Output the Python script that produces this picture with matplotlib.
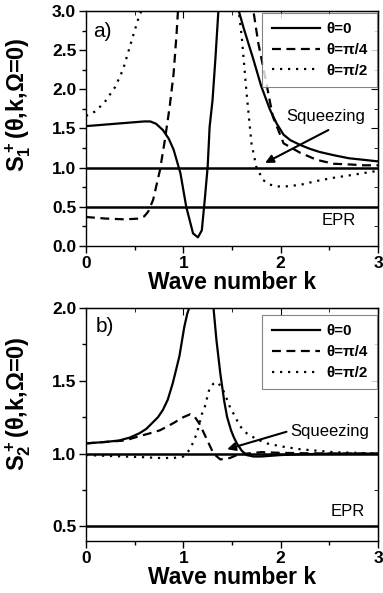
import matplotlib
matplotlib.use("Agg")
import matplotlib.pyplot as plt
import numpy as np
from matplotlib.ticker import MultipleLocator, FormatStrFormatter

plt.rcParams['font.family'] = ['Liberation Sans', 'DejaVu Sans']
plt.rcParams['font.weight'] = 'bold'
plt.rcParams['axes.labelweight'] = 'bold'
plt.rcParams['mathtext.fontset'] = 'custom'
plt.rcParams['mathtext.bf'] = 'Liberation Sans:bold'
plt.rcParams['mathtext.rm'] = 'Liberation Sans:bold'

nan = np.nan

### Data, panel a)  (nan splits the branches that run off the top)
k_a0 = [0.0, 0.2, 0.4, 0.6, 0.66, 0.72, 0.79, 0.85, 0.9, 0.97, 1.03, 1.1, 1.15, 1.19, 1.22, 1.25, 1.27, 1.3, 1.33, 1.36, 1.39,
        nan, 1.55, 1.57, 1.62, 1.67, 1.72, 1.8, 1.89, 1.96, 2.03, 2.1, 2.2, 2.3, 2.4, 2.54, 2.7, 2.85, 3.0]
s_a0 = [1.53, 1.55, 1.57, 1.59, 1.59, 1.56, 1.48, 1.37, 1.23, 0.93, 0.5, 0.16, 0.11, 0.2, 0.59, 1.01, 1.52, 1.86, 2.4, 3.0, 3.6,
        nan, 3.5, 3.0, 2.78, 2.58, 2.38, 2.04, 1.74, 1.56, 1.42, 1.35, 1.29, 1.24, 1.2, 1.16, 1.12, 1.1, 1.08]

k_a1 = [0.0, 0.2, 0.4, 0.55, 0.6, 0.64, 0.69, 0.76, 0.81, 0.86, 0.9, 0.93, 0.945, 0.96,
        nan, 1.71, 1.72, 1.77, 1.84, 1.92, 2.03, 2.2, 2.37, 2.54, 2.72, 2.85, 3.0]
s_a1 = [0.37, 0.35, 0.34, 0.35, 0.38, 0.44, 0.59, 0.97, 1.35, 1.78, 2.2, 2.7, 3.0, 3.5,
        nan, 3.5, 3.0, 2.59, 2.16, 1.65, 1.31, 1.19, 1.1, 1.05, 1.04, 1.03, 1.03]

k_a2 = [0.0, 0.1, 0.2, 0.3, 0.38, 0.44, 0.5, 0.55, 0.57, 0.59,
        nan, 1.55, 1.57, 1.6, 1.65, 1.7, 1.75, 1.82, 1.9, 1.96, 2.05, 2.2, 2.37, 2.54, 2.7, 2.85, 3.0]
s_a2 = [1.66, 1.72, 1.85, 2.03, 2.25, 2.5, 2.75, 2.95, 3.0, 3.5,
        nan, 3.5, 3.0, 2.67, 1.95, 1.31, 1.01, 0.84, 0.78, 0.76, 0.76, 0.78, 0.83, 0.87, 0.9, 0.93, 0.96]

### Data, panel b)
k_b0 = [0.0, 0.2, 0.34, 0.45, 0.55, 0.62, 0.68, 0.74, 0.79, 0.84, 0.89, 0.92, 0.96, 1.01, 1.04, 1.06, 1.09,
        nan, 1.29, 1.31, 1.34, 1.38, 1.42, 1.45, 1.49, 1.52, 1.55, 1.6, 1.65, 1.72, 1.8, 1.9, 2.0, 2.2, 2.5, 3.0]
s_b0 = [1.07, 1.08, 1.09, 1.11, 1.14, 1.17, 1.21, 1.25, 1.3, 1.37, 1.48, 1.56, 1.67, 1.87, 1.96, 2.0, 2.2,
        nan, 2.2, 2.0, 1.78, 1.55, 1.36, 1.25, 1.16, 1.11, 1.07, 1.02, 0.99, 0.98, 0.98, 0.985, 0.99, 0.995, 1.0, 1.0]

k_b1 = [0.0, 0.2, 0.4, 0.55, 0.66, 0.76, 0.9, 1.0, 1.07, 1.12, 1.17, 1.24, 1.31, 1.38, 1.48, 1.55, 1.65, 1.8, 2.0, 2.5, 3.0]
s_b1 = [1.07, 1.08, 1.09, 1.12, 1.14, 1.16, 1.21, 1.25, 1.27, 1.25, 1.2, 1.1, 1.0, 0.96, 0.97, 0.99, 1.0, 1.01, 1.005, 1.0, 1.0]

k_b2 = [0.0, 0.2, 0.4, 0.6, 0.75, 0.9, 1.0, 1.07, 1.14, 1.19, 1.22, 1.27, 1.31, 1.35, 1.4, 1.45, 1.49, 1.52, 1.58, 1.65,
        1.75, 1.86, 2.0, 2.2, 2.54, 3.0]
s_b2 = [0.99, 0.985, 0.98, 0.975, 0.97, 0.97, 0.98, 1.03, 1.14, 1.27, 1.32, 1.45, 1.48, 1.49, 1.45, 1.37, 1.3, 1.27, 1.19, 1.14,
        1.1, 1.07, 1.05, 1.03, 1.01, 1.0]

labels = ['θ=0', 'θ=π/4', 'θ=π/2']
squeeze_level = 1.0
epr_level = 0.5

styles = [dict(ls='-', lw=1.6), dict(ls=(0, (4, 2.5)), lw=1.6), dict(ls=(0, (1, 2.6)), lw=1.6)]


def style_axes(ax, ylim, ymajor, yminor):
    ax.set_xlim(0, 3)
    ax.set_ylim(*ylim)
    ax.xaxis.set_major_locator(MultipleLocator(1))
    ax.xaxis.set_minor_locator(MultipleLocator(0.5))
    ax.yaxis.set_major_locator(MultipleLocator(ymajor))
    ax.yaxis.set_minor_locator(MultipleLocator(yminor))
    ax.tick_params(which='major', direction='out', length=5, width=1, labelsize=12.5, pad=2)
    ax.tick_params(which='minor', direction='out', length=3, width=1)
    ax.yaxis.set_major_formatter(FormatStrFormatter('%.1f'))
    for s in ax.spines.values():
        s.set_linewidth(1)
    # inward ticks on top and right
    top = ax.secondary_xaxis('top')
    top.xaxis.set_major_locator(MultipleLocator(1))
    top.xaxis.set_minor_locator(MultipleLocator(0.5))
    top.tick_params(which='major', direction='in', length=5, labeltop=False)
    top.tick_params(which='minor', direction='in', length=3)
    right = ax.secondary_yaxis('right')
    right.yaxis.set_major_locator(MultipleLocator(ymajor))
    right.yaxis.set_minor_locator(MultipleLocator(yminor))
    right.tick_params(which='major', direction='in', length=5, labelright=False)
    right.tick_params(which='minor', direction='in', length=3)
    ax.set_xlabel('Wave number k', fontsize=16.5, labelpad=0)


def add_legend(ax, y_anchor):
    leg = ax.legend(loc='upper right', bbox_to_anchor=(0.997, y_anchor), borderaxespad=0, fancybox=False,
                    edgecolor='0.4', fontsize=11, handlelength=3.2, handletextpad=0.4,
                    labelspacing=0.45, borderpad=0.6)
    leg.get_frame().set_linewidth(0.8)


fig = plt.figure(figsize=(3.83, 5.93), dpi=100)
ax1 = fig.add_axes([0.2245, 0.5852, 0.7625, 0.3963])
ax2 = fig.add_axes([0.2245, 0.0877, 0.7625, 0.393])

# panel a
for k, s, st, lab in zip([k_a0, k_a1, k_a2], [s_a0, s_a1, s_a2], styles, labels):
    ax1.plot(k, s, color='k', label=lab, **st)
ax1.axhline(squeeze_level, color='k', lw=1.8)
ax1.axhline(epr_level, color='k', lw=1.8)
style_axes(ax1, (0, 3), 0.5, 0.25)
ax1.set_ylabel(r'$\mathbf{S_1^+}$(θ,k,Ω=0)', fontsize=17)
ax1.yaxis.set_label_coords(-0.18, 0.6)
ax1.text(0.075, 2.74, 'a)', fontsize=15, fontweight='normal', va='center')
ax1.text(2.06, 1.65, 'Squeezing', fontsize=12, fontweight='normal', va='center')
ax1.annotate('', xy=(1.84, 1.06), xytext=(2.49, 1.48),
             arrowprops=dict(arrowstyle='-|>', color='k', lw=1.5, mutation_scale=12, shrinkA=0, shrinkB=0))
ax1.text(2.42, 0.33, 'EPR', fontsize=12, fontweight='normal', va='center')
add_legend(ax1, 0.992)

# panel b
for k, s, st, lab in zip([k_b0, k_b1, k_b2], [s_b0, s_b1, s_b2], styles, labels):
    ax2.plot(k, s, color='k', label=lab, **st)
ax2.axhline(squeeze_level, color='k', lw=1.8)
ax2.axhline(epr_level, color='k', lw=1.8)
style_axes(ax2, (0.4, 2.0), 0.5, 0.25)
ax2.set_ylabel(r'$\mathbf{S_2^+}$(θ,k,Ω=0)', fontsize=17)
ax2.yaxis.set_label_coords(-0.18, 0.59)
ax2.text(0.1, 1.87, 'b)', fontsize=15, fontweight='normal', va='center')
ax2.text(2.1, 1.15, 'Squeezing', fontsize=12, fontweight='normal', va='center')
ax2.annotate('', xy=(1.45, 1.03), xytext=(2.06, 1.15),
             arrowprops=dict(arrowstyle='-|>', color='k', lw=1.5, mutation_scale=12, shrinkA=0, shrinkB=0))
ax2.text(2.51, 0.6, 'EPR', fontsize=12, fontweight='normal', va='center')
add_legend(ax2, 0.97)

fig.savefig('out.png', dpi=100)
